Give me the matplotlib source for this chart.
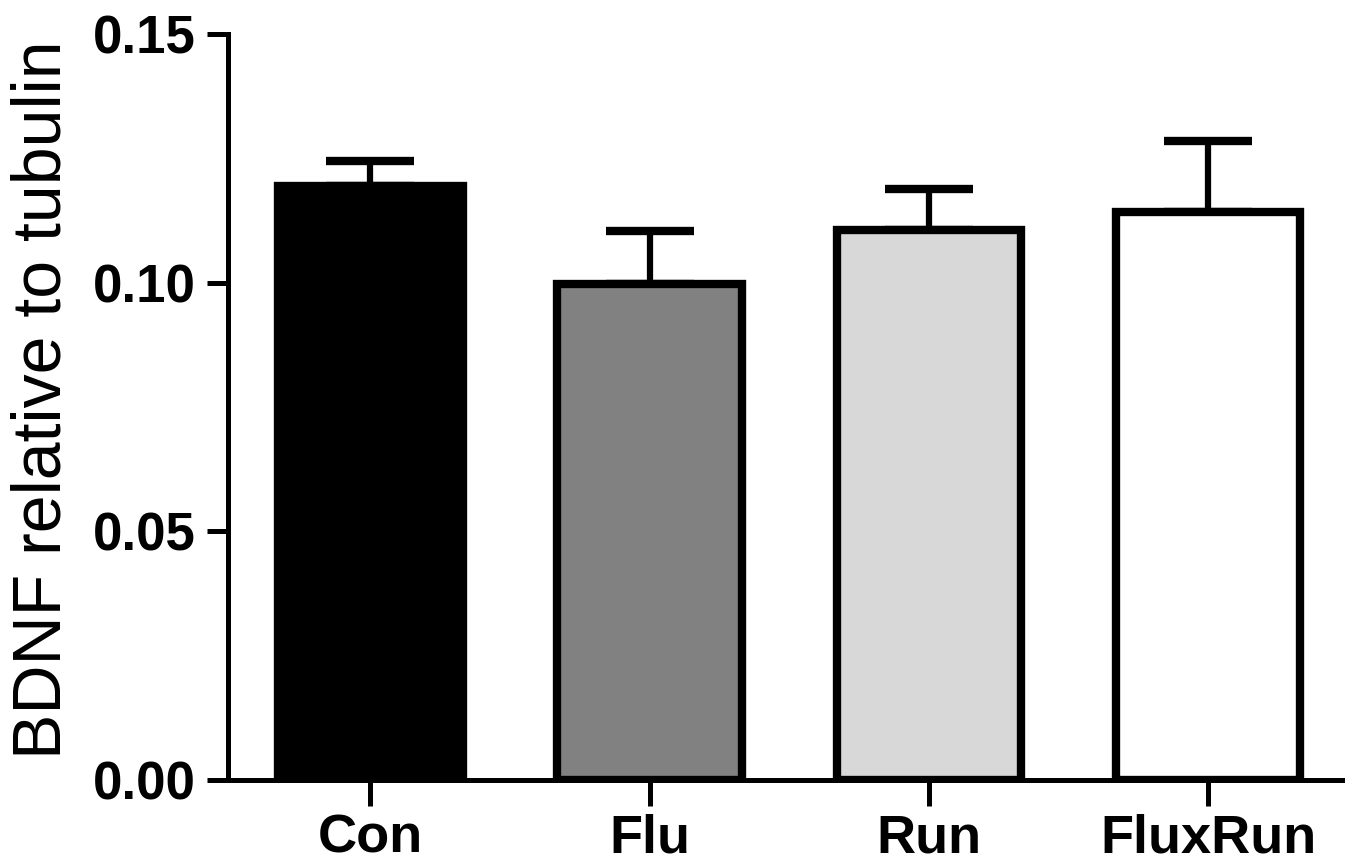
import numpy as np
import matplotlib.pyplot as plt

groups = ['Con', 'Flu', 'Run', 'FluxRun']
means = [0.1195, 0.0998, 0.1105, 0.1143]
sem = [0.0050, 0.0105, 0.0083, 0.0142]
fills = ['#000000', '#818181', '#d8d8d8', '#ffffff']
yticks = [0.00, 0.05, 0.10, 0.15]

plt.rcParams['font.family'] = ['Liberation Sans', 'DejaVu Sans']

fig = plt.figure(figsize=(13.57, 8.61), dpi=100)
ax = fig.add_axes([0.168, 0.094, 0.821, 0.8665])

x = np.arange(len(groups))
ax.bar(x, means, width=0.66, color=fills, edgecolor='black', linewidth=6, zorder=2)
# upper error bars only
ax.errorbar(x, means, yerr=[np.zeros(len(sem)), sem], fmt='none', ecolor='black',
            elinewidth=4.5, capsize=32, capthick=6, zorder=1)

ax.set_xlim(-0.51, 3.48)
ax.set_ylim(0, 0.15)
ax.set_yticks(yticks)
ax.set_yticklabels(['{:.2f}'.format(v) for v in yticks])
ax.set_xticks(x)
ax.set_xticklabels(groups)

for s in ['top', 'right']:
    ax.spines[s].set_visible(False)
for s in ['left', 'bottom']:
    ax.spines[s].set_linewidth(3.6)

ax.tick_params(axis='y', length=15, width=3.6, pad=8, labelsize=38)
ax.tick_params(axis='x', length=19, width=3.6, pad=5, labelsize=39)
for lab in ax.get_xticklabels() + ax.get_yticklabels():
    lab.set_fontweight('bold')

ax.set_ylabel('BDNF relative to tubulin', fontsize=49)
ax.yaxis.set_label_coords(-0.138, 0.51)

fig.savefig('out.png', dpi=100)
